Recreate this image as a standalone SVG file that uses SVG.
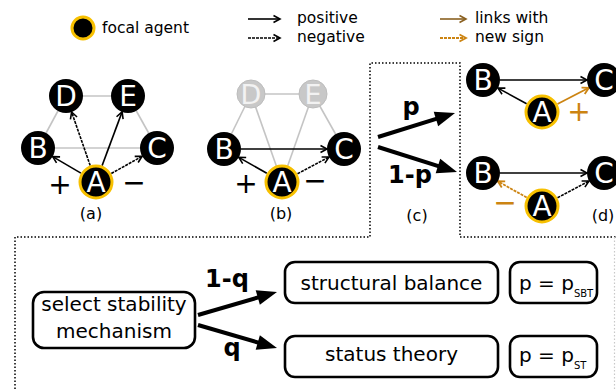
<svg xmlns="http://www.w3.org/2000/svg" width="616" height="389" viewBox="0 0 616 389">
<style>
text{font-family:"DejaVu Sans","Liberation Sans",sans-serif;fill:#000}
.lbl{font-size:15.5px}
.cap{font-size:16px;text-anchor:middle}
.big{font-size:20px;text-anchor:middle}
.bold{font-size:24px;font-weight:bold;text-anchor:middle}
.sign{font-size:28px;text-anchor:middle}
.nl{font-size:28px;fill:#fff;text-anchor:middle}
.gl{font-size:27px;fill:#f2f2f2;text-anchor:middle}
.node{fill:#000}
.focal{fill:#000;stroke:#f7c000;stroke-width:3}
.gnode{fill:#c8c8c8;stroke:#bdbdbd;stroke-width:1}
.gray{stroke:#c4c4c4;stroke-width:1.6;fill:none}
.pos{stroke:#000;stroke-width:1.6;fill:none;marker-end:url(#ah)}
.neg{stroke:#000;stroke-width:1.6;fill:none;stroke-dasharray:3,1;marker-end:url(#ah)}
.opos{stroke:#cc8412;stroke-width:1.8;fill:none;marker-end:url(#aho)}
.oneg{stroke:#cc8412;stroke-width:1.8;fill:none;stroke-dasharray:3,1;marker-end:url(#aho)}
.thick{stroke:#000;stroke-width:4;fill:none;marker-end:url(#big)}
.box{fill:#fff;stroke:#000;stroke-width:2.6}
.dot{stroke:#000;stroke-width:1.5;fill:none;stroke-dasharray:1.5,2}
</style>
<defs>
<marker id="ah" markerUnits="userSpaceOnUse" markerWidth="10" markerHeight="10" refX="7" refY="4" orient="auto" overflow="visible">
<path d="M0.5,0.5 L7,4 L0.5,7.5" fill="none" stroke="#000" stroke-width="1.6"/>
</marker>
<marker id="aho" markerUnits="userSpaceOnUse" markerWidth="10" markerHeight="10" refX="7" refY="4" orient="auto" overflow="visible">
<path d="M0.5,0.5 L7,4 L0.5,7.5" fill="none" stroke="#cc8412" stroke-width="1.8"/>
</marker>
<marker id="ahb" markerUnits="userSpaceOnUse" markerWidth="10" markerHeight="10" refX="7" refY="4" orient="auto" overflow="visible">
<path d="M0.5,0.5 L7,4 L0.5,7.5" fill="none" stroke="#8a6020" stroke-width="1.6"/>
</marker>
<marker id="big" markerUnits="userSpaceOnUse" markerWidth="20" markerHeight="15" refX="12" refY="7.5" orient="auto" overflow="visible">
<path d="M0,0 L20,7.5 L0,15 Z" fill="#000"/>
</marker>
</defs>

<!-- dotted frames -->
<g id="frames">
<path class="dot" d="M15,389 V237 H370 V63 H460 V237 H616"/>
<path d="M614.5,237 V389" stroke="#c8c8c8" stroke-width="1.2" stroke-dasharray="1.5,2" fill="none"/>
</g>

<!-- legend -->
<g id="legend">
<circle cx="83" cy="28" r="11" class="focal"/>
<text x="102" y="33" class="lbl">focal agent</text>
<line x1="248" y1="19" x2="280" y2="19" class="pos"/>
<line x1="248" y1="38" x2="280" y2="38" class="neg"/>
<text x="297" y="23" class="lbl">positive</text>
<text x="297" y="42" class="lbl">negative</text>
<line x1="440" y1="19" x2="466" y2="19" stroke="#8a6020" stroke-width="1.6" marker-end="url(#ahb)"/>
<line x1="440" y1="38" x2="466" y2="38" class="oneg"/>
<text x="475" y="23" class="lbl">links with</text>
<text x="475" y="42" class="lbl">new sign</text>
</g>

<!-- connectors -->
<g id="connectors">
<!-- (a) -->
<line x1="66" y1="96" x2="128" y2="96" class="gray"/>
<line x1="66" y1="96" x2="38" y2="148" class="gray"/>
<line x1="128" y1="96" x2="157" y2="148" class="gray"/>
<line x1="38" y1="148" x2="157" y2="148" class="gray"/>
<line x1="80.9" y1="173.1" x2="52.7" y2="156.6" class="pos"/>
<line x1="90.2" y1="165.5" x2="71.6" y2="112" class="neg"/>
<line x1="102.1" y1="165.6" x2="122.1" y2="111.9" class="pos"/>
<line x1="111.3" y1="173.5" x2="142.1" y2="156.3" class="neg"/>
<!-- (b) -->
<line x1="251" y1="94" x2="313" y2="94" class="gray"/>
<line x1="251" y1="94" x2="224" y2="149" class="gray"/>
<line x1="313" y1="94" x2="344" y2="149" class="gray"/>
<line x1="251" y1="94" x2="282" y2="182" class="gray"/>
<line x1="313" y1="94" x2="282" y2="182" class="gray"/>
<line x1="241" y1="149" x2="327" y2="149" class="pos"/>
<line x1="266.8" y1="173.3" x2="238.8" y2="157.4" class="pos"/>
<line x1="297.5" y1="173.8" x2="329" y2="157" class="neg"/>
<!-- (c) -->
<line x1="378" y1="137" x2="447.4" y2="115.4" class="thick"/>
<line x1="378" y1="147" x2="449.4" y2="169.6" class="thick"/>
<!-- (d) top -->
<line x1="500" y1="80" x2="587" y2="80" class="pos"/>
<line x1="526.6" y1="103.7" x2="498" y2="88.1" class="pos"/>
<line x1="557.5" y1="104" x2="588.9" y2="87.8" class="opos"/>
<!-- (d) bottom -->
<line x1="500" y1="173" x2="587" y2="173" class="pos"/>
<line x1="526.7" y1="197.5" x2="497.8" y2="181.3" class="oneg"/>
<line x1="557.5" y1="197.8" x2="589" y2="181" class="neg"/>
<!-- bottom flow -->
<line x1="198" y1="315" x2="269.3" y2="294.2" class="thick"/>
<line x1="198" y1="325" x2="269.3" y2="345.8" class="thick"/>
</g>

<!-- panel (a) nodes -->
<g id="a-D"><circle cx="66" cy="96" r="17" class="node"/><text x="66" y="106" class="nl">D</text></g>
<g id="a-E"><circle cx="128" cy="96" r="17" class="node"/><text x="128" y="106" class="nl">E</text></g>
<g id="a-B"><circle cx="38" cy="148" r="17" class="node"/><text x="38" y="158" class="nl">B</text></g>
<g id="a-C"><circle cx="157" cy="148" r="17" class="node"/><text x="157" y="158" class="nl">C</text></g>
<g id="a-A"><circle cx="96" cy="182" r="16" class="focal"/><text x="96" y="192" class="nl">A</text></g>
<text x="60" y="194" class="sign">+</text>
<text x="134" y="192" class="sign">−</text>
<text x="91" y="219" class="cap">(a)</text>

<!-- panel (b) nodes -->
<g id="b-D"><circle cx="251" cy="94" r="14" class="gnode"/><text x="251" y="104" class="gl">D</text></g>
<g id="b-E"><circle cx="313" cy="94" r="14" class="gnode"/><text x="313" y="104" class="gl">E</text></g>
<g id="b-B"><circle cx="224" cy="149" r="17" class="node"/><text x="224" y="159" class="nl">B</text></g>
<g id="b-C"><circle cx="344" cy="149" r="17" class="node"/><text x="344" y="159" class="nl">C</text></g>
<g id="b-A"><circle cx="282" cy="182" r="16" class="focal"/><text x="282" y="192" class="nl">A</text></g>
<text x="246" y="193" class="sign">+</text>
<text x="315" y="190" class="sign">−</text>
<text x="281" y="219" class="cap">(b)</text>

<!-- panel (c) -->
<text x="411" y="115" class="bold">p</text>
<text x="410" y="183" class="bold">1-p</text>
<text x="417" y="221" class="cap">(c)</text>

<!-- panel (d) nodes -->
<g id="d1-B"><circle cx="483" cy="80" r="17" class="node"/><text x="483" y="90" class="nl">B</text></g>
<g id="d1-C"><circle cx="604" cy="80" r="17" class="node"/><text x="604" y="90" class="nl">C</text></g>
<g id="d1-A"><circle cx="542" cy="112" r="16" class="focal"/><text x="542" y="122" class="nl">A</text></g>
<text x="579" y="121" class="sign" style="fill:#cc8412">+</text>
<g id="d2-B"><circle cx="483" cy="173" r="17" class="node"/><text x="483" y="183" class="nl">B</text></g>
<g id="d2-C"><circle cx="604" cy="173" r="17" class="node"/><text x="604" y="183" class="nl">C</text></g>
<g id="d2-A"><circle cx="542" cy="206" r="16" class="focal"/><text x="542" y="216" class="nl">A</text></g>
<text x="505" y="212" class="sign" style="fill:#cc8412">−</text>
<text x="603" y="221" class="cap">(d)</text>

<!-- bottom flow -->
<g id="select"><rect x="33" y="292" width="162" height="56" rx="11" class="box"/>
<text x="114" y="311" class="big">select stability</text>
<text x="114" y="338" class="big">mechanism</text></g>
<text x="227" y="287" class="bold">1-q</text>
<text x="232" y="356" class="bold">q</text>
<g id="sbt"><rect x="285" y="262" width="213" height="41" rx="10" class="box"/>
<text x="391.5" y="290" class="big">structural balance</text></g>
<g id="st"><rect x="285" y="336" width="213" height="41" rx="10" class="box"/>
<text x="391.5" y="361" class="big">status theory</text></g>
<g id="psbt"><rect x="510" y="262" width="87" height="41" rx="10" class="box"/>
<text x="519" y="290" style="font-size:20px">p = p<tspan dy="7" style="font-size:10px">SBT</tspan></text></g>
<g id="pst"><rect x="510" y="336" width="87" height="41" rx="10" class="box"/>
<text x="519" y="362" style="font-size:20px">p = p<tspan dy="7" style="font-size:10px">ST</tspan></text></g>
</svg>
